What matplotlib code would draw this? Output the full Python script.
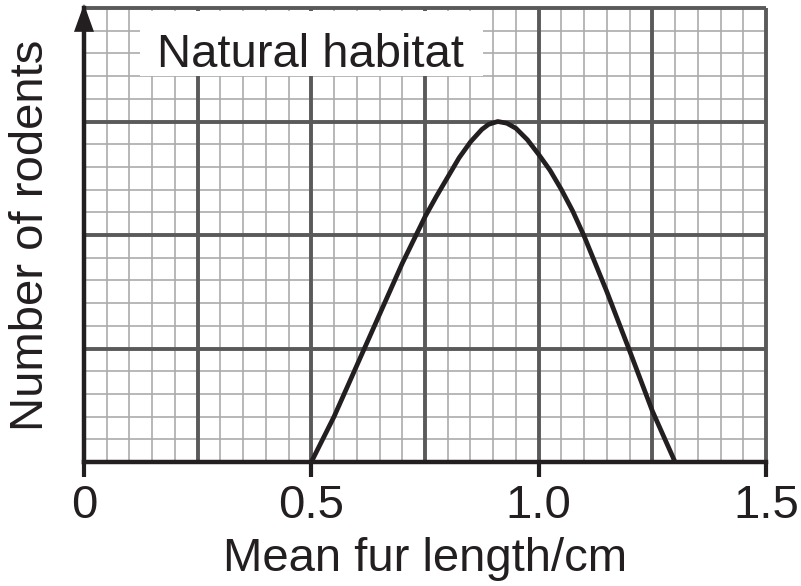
import numpy as np
import matplotlib
matplotlib.use("Agg")
import matplotlib.pyplot as plt
from matplotlib.patches import Rectangle, Polygon

plt.rcParams['font.family'] = ['Liberation Sans', 'DejaVu Sans']

# Data
fur_length = [0.50, 0.55, 0.60, 0.65, 0.70, 0.75, 0.775, 0.80, 0.825, 0.85, 0.875, 0.89,
              0.91, 0.93, 0.95, 0.975, 1.00, 1.025, 1.05, 1.075, 1.10, 1.15, 1.20, 1.25, 1.30]
rodents = [0.0, 0.40, 0.85, 1.30, 1.75, 2.16, 2.34, 2.51, 2.68, 2.82, 2.93, 2.975,
           3.0, 2.985, 2.94, 2.84, 2.71, 2.57, 2.40, 2.21, 1.99, 1.50, 0.98, 0.45, 0.0]
xtick_vals = [0, 0.5, 1.0, 1.5]
xtick_labels = ["0", "0.5", "1.0", "1.5"]
title_text = "Natural habitat"
xlabel = "Mean fur length/cm"
ylabel = "Number of rodents"

fig = plt.figure(figsize=(8.01, 5.86), dpi=100)
ax = fig.add_axes([84/801, 1-462/586, 682/801, 454/586])
ax.set_xlim(0, 1.5)
ax.set_ylim(0, 4)

minor_c = '#ababab'
major_c = '#5a5a5a'
xs_minor = np.arange(0, 1.5001, 0.05)
ys_minor = np.arange(0, 4.001, 0.2)
ax.vlines(xs_minor, 0, 4, colors=minor_c, lw=1.2, zorder=0.5, clip_on=False)
ax.hlines(ys_minor, 0, 1.5, colors=minor_c, lw=1.2, zorder=0.5, clip_on=False)
ax.vlines(np.arange(0.25, 1.5001, 0.25), 0, 4, colors=major_c, lw=2.8, zorder=0.6, clip_on=False)
ax.hlines(np.arange(1, 4.001, 1), 0, 1.5, colors=major_c, lw=2.8, zorder=0.6, clip_on=False)

# white label box
ax.add_patch(Rectangle((0.123, 3.40), 0.755, 0.57, fc='white', ec='none', zorder=1))
ax.text(0.16, 3.48, title_text, fontsize=34, color='#231f20', ha='left',
        va='baseline', zorder=2)

ax.plot(fur_length, rodents, color='#231f20', lw=3.4, zorder=3,
        solid_joinstyle='round', solid_capstyle='butt')

for s in ['top', 'right']:
    ax.spines[s].set_visible(False)
for s in ['left', 'bottom']:
    ax.spines[s].set_linewidth(3.2)
    ax.spines[s].set_color('#231f20')
    ax.spines[s].set_zorder(2.5)

# arrow head at top of y axis
ax.add_patch(Polygon([(0, 4.035), (-0.022, 3.79), (0.022, 3.79)], closed=True,
                     fc='#231f20', ec='none', clip_on=False, zorder=4))

ax.set_xticks(xtick_vals)
ax.set_xticklabels(xtick_labels)
ax.set_yticks([])
ax.tick_params(axis='x', direction='out', length=11, width=3, color='#231f20',
               labelsize=34, labelcolor='#231f20', pad=5)
ax.set_xlabel(xlabel, fontsize=34, color='#231f20', labelpad=6)
ax.set_ylabel(ylabel, fontsize=34, color='#231f20', labelpad=22)

fig.savefig("out.png", dpi=100)
